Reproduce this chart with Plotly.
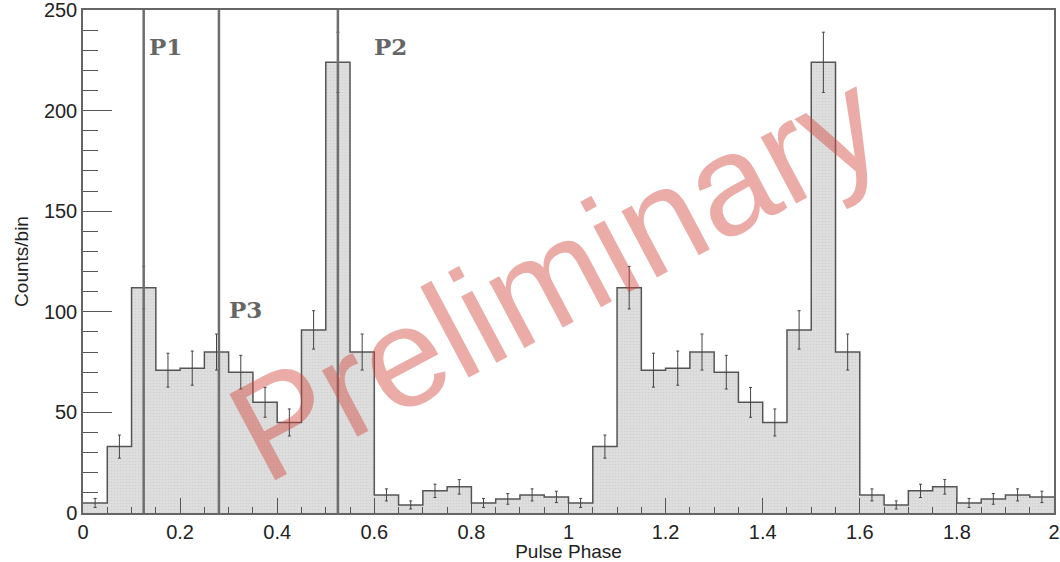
import numpy as np
import plotly.graph_objects as go

# ---- data ----
bin_width = 0.05
phase_min, phase_max = 0.0, 2.0
counts = [5, 33, 112, 71, 72, 80, 70, 55, 45, 91, 224, 80, 9, 4, 11, 13, 5, 7, 9, 8,
          5, 33, 112, 71, 72, 80, 70, 55, 45, 91, 224, 80, 9, 4, 11, 13, 5, 7, 9, 8]
peak_names = ["P1", "P3", "P2"]
peak_phases = [0.125, 0.28, 0.525]
label_x = [0.170, 0.335, 0.634]
label_y = [232, 101, 232]
x_tickvals = [0, 0.2, 0.4, 0.6, 0.8, 1.0, 1.2, 1.4, 1.6, 1.8, 2.0]
x_ticktext = ["0", "0.2", "0.4", "0.6", "0.8", "1", "1.2", "1.4", "1.6", "1.8", "2"]
y_tickvals = [0, 50, 100, 150, 200, 250]

edges = np.linspace(phase_min, phase_max, len(counts) + 1)
centers = 0.5 * (edges[:-1] + edges[1:])
errors = np.sqrt(np.array(counts, dtype=float))

W, H = 1060, 562
ml, mr, mt, mb = 83, 6, 10, 49

fig = go.Figure()

# filled step histogram
fig.add_trace(go.Scatter(
    x=edges, y=list(counts) + [counts[-1]],
    mode="lines", line=dict(shape="hv", color="#555555", width=1.5),
    fill="tozeroy", fillcolor="#dcdcdc",
    fillpattern=dict(shape=".", size=3, solidity=0.25, fgcolor="#c4c4c4", bgcolor="#dedede"),
    hoverinfo="skip", showlegend=False,
))

# error bars
fig.add_trace(go.Scatter(
    x=centers, y=counts, mode="markers",
    marker=dict(size=1, color="rgba(0,0,0,0)"),
    error_y=dict(type="data", array=errors, visible=True, color="#444444", thickness=1, width=1.5),
    showlegend=False, hoverinfo="skip",
))

# vertical peak markers
for p in peak_phases:
    fig.add_shape(type="line", xref="x", yref="y", x0=p, x1=p, y0=0, y1=250,
                  line=dict(color="#6e6e6e", width=2.5), layer="above")

# peak labels
for name, lx, ly in zip(peak_names, label_x, label_y):
    fig.add_annotation(x=lx, y=ly, xref="x", yref="y", text="<b>%s</b>" % name,
                       showarrow=False, font=dict(family="DejaVu Serif", size=23, color="#666666"))

# watermark (position given in pixels, converted to paper coords)
wm_px, wm_py = 555, 275
fig.add_annotation(x=(wm_px - ml) / (W - ml - mr), y=(H - mb - wm_py) / (H - mt - mb),
                   xref="paper", yref="paper", text="Preliminary",
                   showarrow=False, textangle=-28,
                   font=dict(family="Liberation Sans, Arial", size=142, color="rgba(210,70,60,0.45)"))

axis_common = dict(showline=True, linecolor="#666666", linewidth=1.5, mirror=True,
                   ticks="inside", tickcolor="#555555", tickwidth=1.2,
                   showgrid=False, zeroline=False, automargin=False,
                   ticklabeloverflow="allow",
                   tickfont=dict(family="Liberation Sans, Arial", size=20, color="#222222"))

fig.update_layout(
    width=W, height=H,
    margin=dict(l=ml, r=mr, t=mt, b=mb),
    paper_bgcolor="white", plot_bgcolor="white",
    xaxis=dict(range=[phase_min, phase_max], tickvals=x_tickvals, ticktext=x_ticktext,
               ticklen=15,
               minor=dict(ticks="inside", dtick=0.05, ticklen=6, tickcolor="#555555"),
               title=dict(text="Pulse Phase", font=dict(family="Liberation Sans, Arial", size=19, color="#222222"),
                          standoff=3),
               **axis_common),
    yaxis=dict(range=[0, 250], tickvals=y_tickvals, ticklen=29,
               minor=dict(ticks="inside", dtick=10, ticklen=15, tickcolor="#555555"),
               title=dict(text="Counts/bin", font=dict(family="Liberation Sans, Arial", size=19, color="#222222"),
                          standoff=10),
               **axis_common),
)

fig.write_html("out.html")
